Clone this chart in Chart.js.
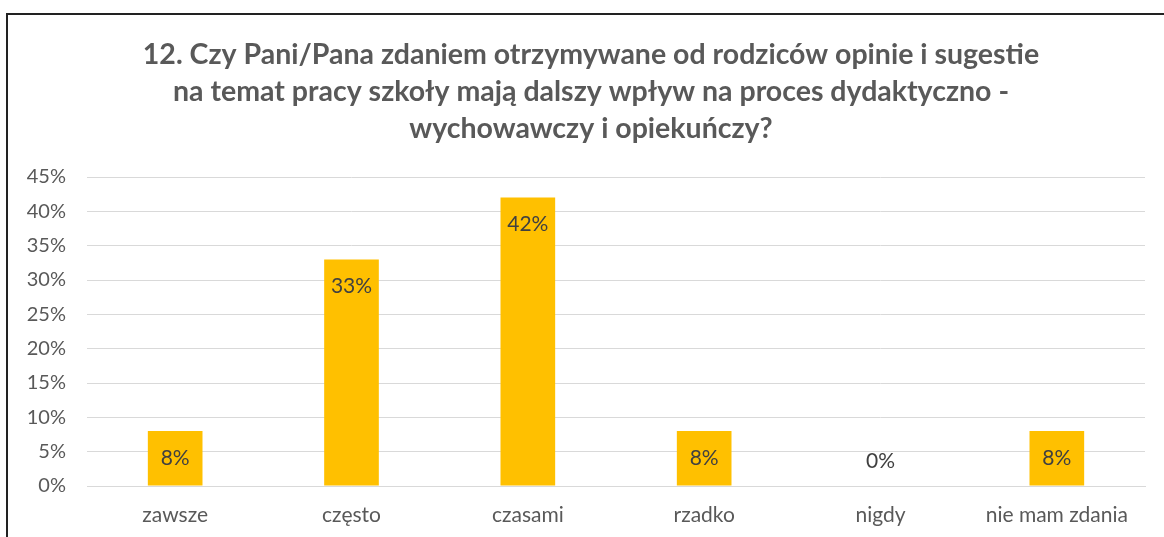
<!DOCTYPE html>
<html>
<head>
<meta charset="utf-8">
<script src="https://cdn.jsdelivr.net/npm/chart.js@4.4.1/dist/chart.umd.min.js"></script>
<style>
  html, body { margin: 0; padding: 0; background: #fff; }
  #wrap { width: 1164px; height: 537px; position: relative; }
</style>
</head>
<body>
<div id="wrap"><canvas id="c" width="1164" height="537"></canvas></div>
<script>
const titleLines = [
  "12. Czy Pani/Pana zdaniem otrzymywane od rodziców opinie i sugestie",
  "na temat pracy szkoły mają dalszy wpływ na proces dydaktyczno -",
  "wychowawczy i opiekuńczy?"
];
const categories = ["zawsze", "często", "czasami", "rzadko", "nigdy", "nie mam zdania"];
const values = [8, 33, 42, 8, 0, 8];
const yMax = 45;
const yStep = 5;

const FONT = "Lato, 'Open Sans', sans-serif";
const GREY = "#595959";

const framePlugin = {
  id: 'frame',
  beforeDraw(chart) {
    const ctx = chart.ctx;
    ctx.save();
    ctx.fillStyle = '#fff';
    ctx.fillRect(0, 0, chart.width, chart.height);
    ctx.strokeStyle = '#222';
    ctx.lineWidth = 2;
    ctx.beginPath();
    ctx.moveTo(7, chart.height);
    ctx.lineTo(7, 14);
    ctx.lineTo(chart.width, 14);
    ctx.stroke();
    // title
    ctx.fillStyle = GREY;
    ctx.font = "bold 28.5px " + FONT;
    ctx.textAlign = 'center';
    ctx.textBaseline = 'middle';
    titleLines.forEach((line, i) => {
      ctx.fillText(line, 591, 55 + i * 36.7);
    });
    ctx.restore();
  }
};

const labelPlugin = {
  id: 'barLabels',
  afterDatasetsDraw(chart) {
    const ctx = chart.ctx;
    const meta = chart.getDatasetMeta(0);
    ctx.save();
    ctx.font = "21px " + FONT;
    ctx.fillStyle = "#404040";
    ctx.textAlign = 'center';
    ctx.textBaseline = 'middle';
    meta.data.forEach((bar, i) => {
      const v = chart.data.datasets[0].data[i];
      const y = v > 0 ? bar.y + 27 : bar.base - 25;
      ctx.fillText(v + "%", bar.x, y);
    });
    ctx.restore();
  }
};

new Chart(document.getElementById('c'), {
  type: 'bar',
  data: {
    labels: categories,
    datasets: [{
      data: values,
      backgroundColor: '#FFC000',
      borderWidth: 0,
      categoryPercentage: 1,
      barPercentage: 0.31
    }]
  },
  options: {
    responsive: false,
    animation: false,
    events: [],
    layout: { padding: { left: 8, right: 19, top: 177, bottom: 0 } },
    plugins: {
      legend: { display: false },
      tooltip: { enabled: false },
      title: { display: false }
    },
    scales: {
      x: {
        grid: { display: false, drawTicks: false },
        border: { display: true, color: '#d9d9d9', width: 1 },
        ticks: { color: GREY, font: { family: FONT, size: 21 }, padding: 17 },
        afterFit(s) { s.height = 51; }
      },
      y: {
        min: 0, max: yMax,
        grid: { color: '#d9d9d9', drawTicks: false },
        border: { display: false },
        ticks: {
          stepSize: yStep,
          color: GREY,
          font: { family: FONT, size: 20 },
          padding: 21,
          callback: v => v + "%"
        },
        afterFit(s) { s.width = 79; }
      }
    }
  },
  plugins: [framePlugin, labelPlugin]
});
</script>
</body>
</html>
